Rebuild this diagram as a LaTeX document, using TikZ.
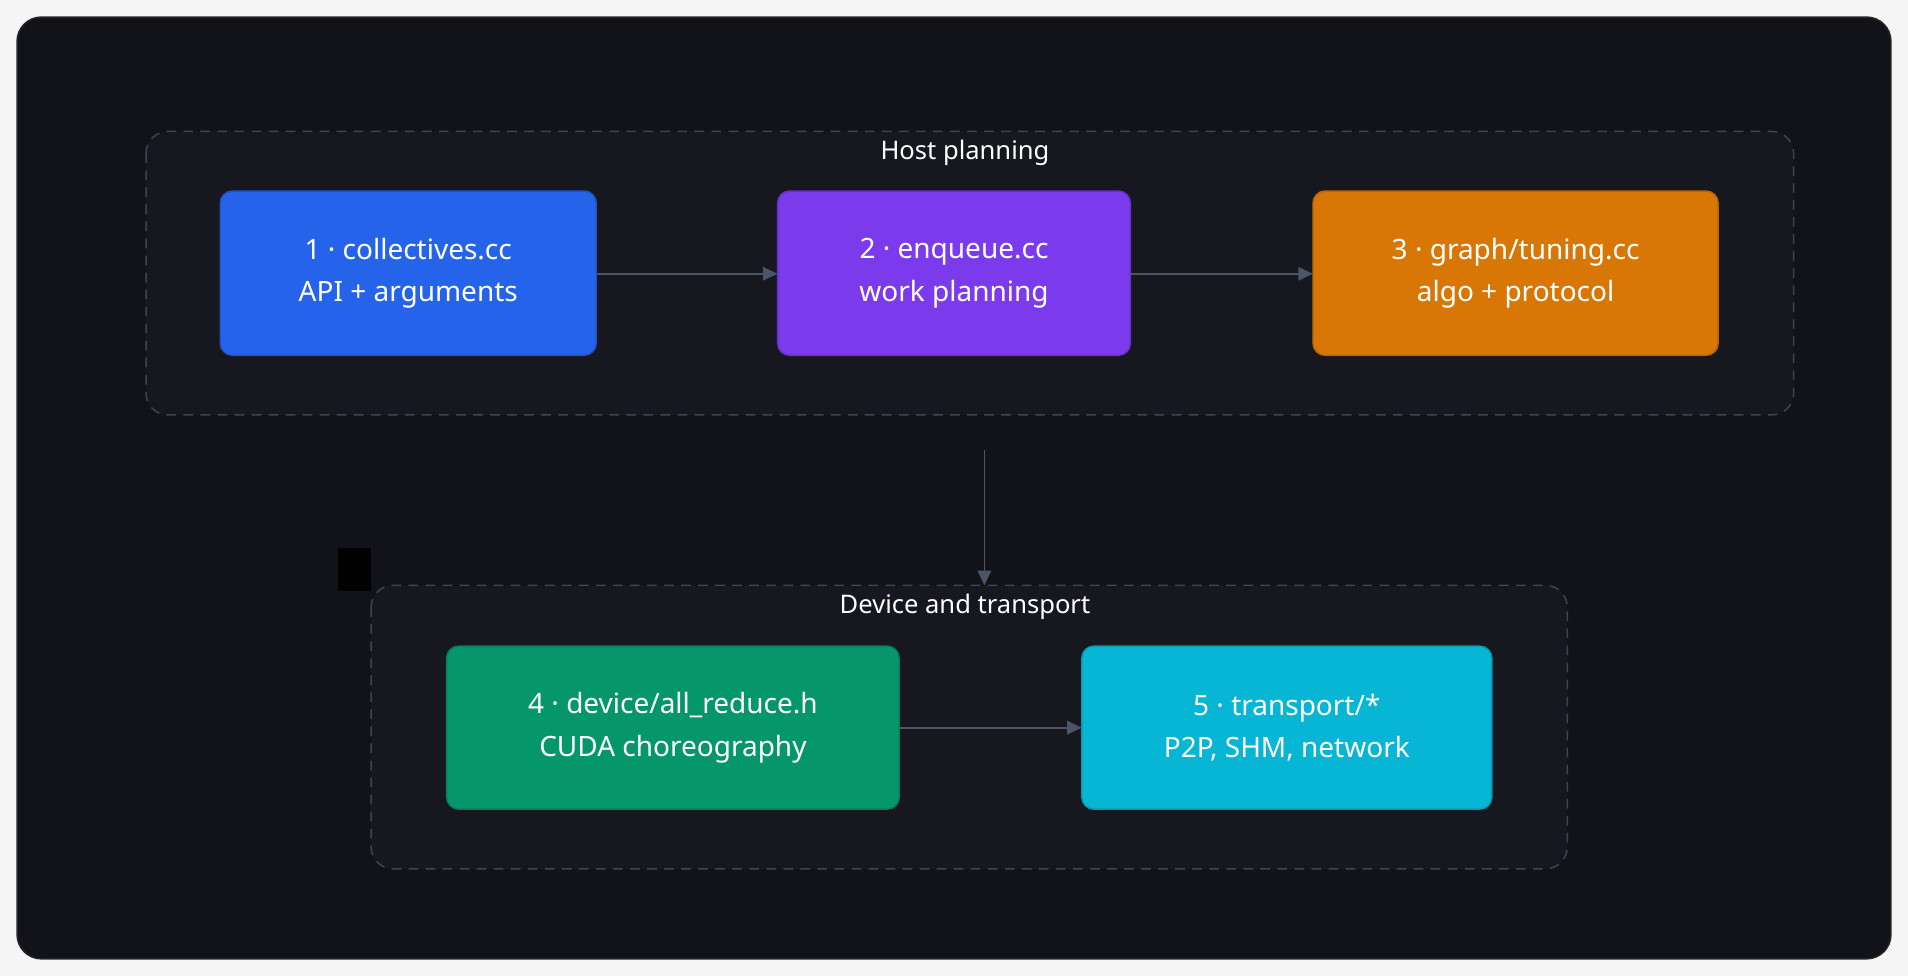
\documentclass[tikz,border=0pt]{standalone}
\usepackage{fontspec}
\setmainfont{Noto Sans}
\usetikzlibrary{arrows.meta}
\definecolor{bgc}{HTML}{111318}
\definecolor{grp}{HTML}{16171F}
\definecolor{dash}{HTML}{3B4556}
\definecolor{arr}{HTML}{4B5567}
\definecolor{cA}{HTML}{2563EB}
\definecolor{cB}{HTML}{7C3AED}
\definecolor{cC}{HTML}{D97706}
\definecolor{cD}{HTML}{059669}
\definecolor{cE}{HTML}{06B6D4}
\begin{document}
\begin{tikzpicture}[x=0.5pt,y=-0.5pt,
  grp/.style={draw=dash,dashed,dash pattern=on 4pt off 3pt,fill=grp,rounded corners=9pt,line width=0.6pt},
  ttl/.style={text=white,font=\bfseries\fontsize{10.5}{12}\selectfont},
  box/.style={rounded corners=5pt,line width=0.6pt,text=white,align=center,font=\fontsize{11.5}{17.5}\selectfont},
  con/.style={draw=arr,line width=0.7pt,-{Triangle[length=6pt,width=5.5pt]}}]
\useasboundingbox (0,0) rectangle (1568,802);
\fill[white!96!black] (0,0) rectangle (1568,802);
\draw[fill=bgc,draw=black!70!gray,rounded corners=10pt,line width=0.6pt] (14,14) rectangle (1554,788);
\draw[grp] (120,108) rectangle (1474,341);
\node[ttl] (t1) at (793,126) {Host planning};
\fill[black!90!bgc] (278,450) rectangle (305,486);
\draw[grp] (305,481) rectangle (1288,714);
\node[ttl] (t2) at (793,499) {Device and transport};
\path[box,fill=cA,draw=cA!85!black] (181,157) rectangle (490,292) node[midway,box] (n1) {1 · collectives.cc\\API + arguments};
\path[box,fill=cB,draw=cB!85!black] (639,157) rectangle (929,292) node[midway,box] (n2) {2 · enqueue.cc\\work planning};
\path[box,fill=cC,draw=cC!85!black] (1079,157) rectangle (1412,292) node[midway,box] (n3) {3 · graph/tuning.cc\\algo + protocol};
\path[box,fill=cD,draw=cD!85!black] (367,531) rectangle (739,665) node[midway,box] (n4) {4 · device/all\_reduce.h\\CUDA choreography};
\path[box,fill=cE,draw=cE!85!black] (889,531) rectangle (1226,665) node[midway,box] (n5) {5 · transport/*\\P2P, SHM, network};
\coordinate (a1) at (490,225); \coordinate (b1) at (639,225);
\coordinate (a2) at (929,225); \coordinate (b2) at (1079,225);
\coordinate (a3) at (739,598); \coordinate (b3) at (889,598);
\coordinate (v1) at (809,370); \coordinate (v2) at (809,481);
\draw[con] (a1) -- (b1);
\draw[con] (a2) -- (b2);
\draw[con] (a3) -- (b3);
\draw[con] (v1) -- (v2);
\end{tikzpicture}
\end{document}
